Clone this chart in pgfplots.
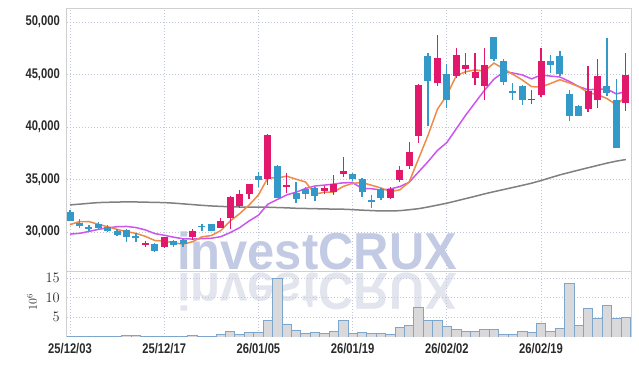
\documentclass[border=0pt]{standalone}
\usepackage{pgfplots}
\pgfplotsset{compat=1.18}
\usepackage{pgfplotstable}
\usepackage{fontspec}
\setmainfont{Liberation Sans}[FakeStretch=0.8]
\newfontfamily\wmfont{Liberation Sans}
\definecolor{upc}{HTML}{E2186C}
\definecolor{dnc}{HTML}{3399C9}
\definecolor{mafive}{HTML}{F08A4B}
\definecolor{maten}{HTML}{CC55EE}
\definecolor{masixty}{HTML}{808080}
\definecolor{gridc}{HTML}{C2C6DA}
\definecolor{framec}{HTML}{D0D0D0}
\definecolor{volfill}{HTML}{D9D9DB}
\definecolor{voledge}{HTML}{7CA6CC}
\definecolor{wm}{HTML}{C3CBE4}
\definecolor{wmr}{HTML}{E2E4EE}
\definecolor{labc}{HTML}{2A2A2A}

\pgfplotstableread{
i o h l c
8 28730 29170 28550 28980
10 28540 29550 28500 29490
13 29550 30320 29240 30130
16 30410 31300 30350 31080
17 31370 33450 30290 33370
18 32480 34010 32260 33630
19 33600 34600 33150 34580
21 35030 39300 34490 39260
23 34270 35610 33750 34490
27 33950 34390 33600 34200
28 33790 35450 33530 34580
29 35570 37100 35280 35830
34 33280 34330 33120 34080
35 34970 36330 34750 35920
36 36240 38570 36020 37610
37 39170 44100 38470 44040
39 44190 48810 43880 46530
41 44870 47540 44700 46900
42 45570 47070 45090 45940
43 44650 47070 44040 45220
44 43880 47540 42610 45940
49 42540 43500 42220 42700
50 43090 47540 42860 46330
55 41710 45820 41390 43400
56 42540 46490 41810 44900
59 42290 47070 41490 45000
}\upT

\pgfplotstableread{
i o h l c
0 31950 32100 31000 31050
1 30850 31200 30350 30600
2 30500 30700 30070 30320
3 30800 30930 30300 30420
4 30450 30650 30030 30130
5 30130 30260 29620 29750
6 30200 30300 29070 29550
7 29620 29950 29080 29500
9 28850 28920 28090 28180
11 29140 29240 28540 28730
12 29240 29300 28550 28830
14 30570 30760 30130 30500
15 30760 30800 30100 30130
20 35350 35760 34270 34970
22 36300 36350 33200 33280
24 33690 34800 32740 33150
25 34080 34270 33180 33630
26 34170 34270 32990 33470
30 35540 35600 34870 35090
31 35030 35100 33310 33850
32 33030 33530 32260 32930
33 34080 34150 33060 33280
38 46750 47070 40060 44360
40 45090 46020 41810 42610
45 48590 48600 46300 46430
46 46330 46430 44010 44280
47 43400 44200 42610 43250
48 43940 44000 42100 42540
51 46330 46900 45150 45880
52 46810 47220 44840 45060
53 43180 43500 40600 41010
54 42030 42130 41010 41010
57 43880 48500 42990 43250
58 42610 44560 37960 37960
}\dnT

\pgfplotstableread{
i m5 m10 m60
0 30700 29800 32580
1 30990 29870 32650
2 31000 30050 32730
3 30730 30250 32800
4 30504 30400 32830
5 30244 30500 32850
6 30034 30530 32870
7 29870 30420 32860
8 29582 30200 32840
9 29192 29848 32820
10 29140 29692 32800
11 28976 29505 32750
12 28842 29356 32680
13 29072 29327 32610
14 29536 29364 32540
15 29664 29402 32480
16 30134 29555 32440
17 31042 29942 32400
18 31742 30407 32380
19 32558 31047 32370
20 33526 31595 32360
21 35162 32648 32360
22 35144 33093 32330
23 35316 33529 32300
24 35030 33794 32260
25 34762 34144 32240
26 33604 34383 32220
27 33788 34466 32200
28 33806 34561 32180
29 34342 34686 32170
30 34634 34698 32130
31 34710 34157 32080
32 34456 34122 32040
33 34196 34001 32000
34 33846 34094 32000
35 34012 34323 32030
36 34764 34737 32120
37 36986 35721 32220
38 39202 36699 32380
39 41692 37769 32560
40 43030 38521 32740
41 44888 39826 32960
42 45268 41127 33180
43 45440 42321 33400
44 45322 43507 33630
45 46086 44558 33840
46 45562 45225 34040
47 45024 45146 34240
48 44488 44964 34440
49 43840 44581 34650
50 43820 44953 34900
51 44140 44851 35170
52 44502 44763 35440
53 44196 44342 35670
54 43858 43849 35900
55 43272 43546 36120
56 43076 43608 36340
57 42714 43608 36560
58 42104 43150 36750
59 42902 43380 36900
}\maT

\pgfplotstableread{
i v
0 0.2
1 0.2
2 0.2
3 0.05
4 0.2
5 0.2
6 0.4
7 0.4
8 0.15
9 0.15
10 0.15
11 0.15
12 0.15
13 0.4
14 0.2
15 0.2
16 0.75
17 1.5
18 0.75
19 1.25
20 1.25
21 4.3
22 14.9
23 3.3
24 1.8
25 0.95
26 1.25
27 0.95
28 1.5
29 4.3
30 0.95
31 1.2
32 0.95
33 0.95
34 0.6
35 2.5
36 3.0
37 7.5
38 4.2
39 4.2
40 2.7
41 1.95
42 1.5
43 1.5
44 1.95
45 1.95
46 0.7
47 0.7
48 1.5
49 1.25
50 3.5
51 1.5
52 2.2
53 13.6
54 3.0
55 7.3
56 4.6
57 8.0
58 4.75
59 5.0
}\volT

\pgfplotsset{
  common/.style={
    scale only axis, width=564pt,
    xmin=-0.32, xmax=59.55,
    xtick={0,10,20,30,40,50},
    scaled x ticks=false, scaled y ticks=false,
    grid=major,
    major grid style={gridc, line width=0.8pt, dash pattern=on 0.8pt off 2.2pt},
    major tick length=0pt,
    axis line style={framec, line width=1pt},
    tick label style={text=labc, font=\bfseries\fontsize{14}{14}\selectfont},
    yticklabel style={anchor=east, inner sep=0pt, xshift=-7pt},
  },
  wick/.style={draw=none, mark=none, forget plot,
    error bars/.cd, y dir=both, y explicit, error mark=none,
    error bar style={draw=#1, line width=1.3pt, solid}},
  body/.style={draw=none, mark=none, forget plot,
    error bars/.cd, y dir=both, y explicit, error mark=none,
    error bar style={draw=#1, line width=7pt, solid}},
}

\begin{document}
\begin{tikzpicture}
% overall frame of the picture: price axis box has its south west corner at (0,0)
\path (-67pt,-94pt) rectangle (572pt,272pt);
\node[anchor=base west, inner sep=0pt, text=wm, xscale=0.94,
  font=\wmfont\bfseries\fontsize{52}{52}\selectfont] at (110pt,2pt) {investCRUX};
\node[anchor=base west, inner sep=0pt, text=wmr, xscale=0.94, yscale=-1,
  font=\wmfont\bfseries\fontsize{52}{52}\selectfont] at (110pt,-2pt) {investCRUX};

\begin{axis}[common, name=price, height=263pt,
  ymin=26190, ymax=51240,
  xticklabels={},
  ytick={30000,35000,40000,45000,50000},
  yticklabels={{30,000},{35,000},{40,000},{45,000},{50,000}},
]
\addplot[masixty, line width=1.5pt] table[x=i, y=m60] {\maT};
\addplot[maten, line width=1.5pt] table[x=i, y=m10] {\maT};
\addplot[mafive, line width=1.5pt] table[x=i, y=m5] {\maT};
\addplot[wick=upc] table[x=i, y expr={(\thisrow{h}+\thisrow{l})/2}, y error expr={(\thisrow{h}-\thisrow{l})/2}] {\upT};
\addplot[body=upc] table[x=i, y expr={(\thisrow{o}+\thisrow{c})/2}, y error expr={max(abs(\thisrow{c}-\thisrow{o})/2,75)}] {\upT};
\addplot[wick=dnc] table[x=i, y expr={(\thisrow{h}+\thisrow{l})/2}, y error expr={(\thisrow{h}-\thisrow{l})/2}] {\dnT};
\addplot[body=dnc] table[x=i, y expr={(\thisrow{o}+\thisrow{c})/2}, y error expr={max(abs(\thisrow{c}-\thisrow{o})/2,75)}] {\dnT};
\end{axis}

\begin{axis}[common, at={(0pt,0pt)}, anchor=north west, height=65pt,
  ymin=0, ymax=16.5,
  ytick={5,10,15},
  xticklabels={25/12/03,25/12/17,26/01/05,26/01/19,26/02/02,26/02/19},
  xticklabel style={yshift=-6pt, inner sep=0pt, anchor=north},
]
\addplot[ybar, bar width=1, bar shift=0pt, fill=volfill, draw=voledge, line width=0.8pt] table[x=i, y=v] {\volT};
\end{axis}

\node[rotate=90, text=labc, font=\fontsize{12}{12}\selectfont] at (-35pt,-30pt) {$10^{6}$};
\end{tikzpicture}
\end{document}
